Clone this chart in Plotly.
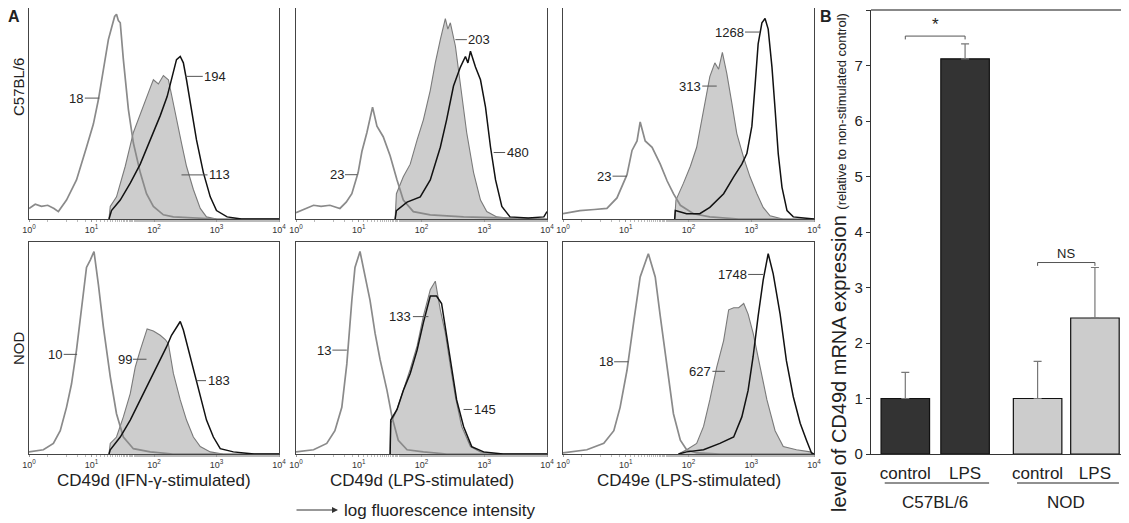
import plotly.graph_objects as go

W, H = 1129, 523

# ---------------- Panel A data (log10 fluorescence, normalised count) ----------------
# C57BL/6, CD49d, IFN-gamma stimulated
c57_ifn_iso_logx = [0.0, 0.1, 0.2, 0.3, 0.4, 0.47, 0.6, 0.76, 0.92, 1.03, 1.11, 1.19, 1.27, 1.32, 1.37, 1.40, 1.43, 1.46, 1.51, 1.59, 1.67, 1.78, 1.88, 1.99, 2.15, 2.31, 2.6, 3.0, 4.0]
c57_ifn_iso_y = [0.05, 0.07, 0.06, 0.065, 0.05, 0.035, 0.09, 0.185, 0.34, 0.45, 0.565, 0.70, 0.85, 0.905, 0.96, 0.97, 0.94, 0.93, 0.755, 0.52, 0.36, 0.22, 0.12, 0.06, 0.02, 0.01, 0.005, 0.0, 0.0]
c57_ifn_fill_logx = [1.28, 1.30, 1.40, 1.54, 1.67, 1.78, 1.88, 1.95, 1.99, 2.07, 2.15, 2.23, 2.28, 2.36, 2.44, 2.52, 2.63, 2.74, 2.84, 3.0]
c57_ifn_fill_y = [0.0, 0.06, 0.105, 0.25, 0.41, 0.50, 0.58, 0.63, 0.66, 0.64, 0.68, 0.66, 0.59, 0.47, 0.36, 0.25, 0.14, 0.05, 0.01, 0.0]
c57_ifn_line_logx = [1.28, 1.32, 1.46, 1.62, 1.78, 1.94, 2.10, 2.21, 2.28, 2.36, 2.42, 2.47, 2.52, 2.60, 2.68, 2.79, 2.90, 3.0, 3.17, 3.4, 4.0]
c57_ifn_line_y = [0.0, 0.04, 0.09, 0.17, 0.26, 0.375, 0.49, 0.58, 0.66, 0.755, 0.77, 0.74, 0.66, 0.52, 0.375, 0.22, 0.105, 0.04, 0.01, 0.0, 0.0]

# C57BL/6, CD49d, LPS stimulated
c57_lpsd_iso_logx = [0.0, 0.15, 0.28, 0.4, 0.54, 0.70, 0.80, 0.89, 0.99, 1.05, 1.13, 1.22, 1.29, 1.39, 1.50, 1.61, 1.71, 1.87, 2.14, 2.67, 3.2, 4.0]
c57_lpsd_iso_y = [0.03, 0.05, 0.065, 0.06, 0.065, 0.05, 0.08, 0.12, 0.22, 0.32, 0.41, 0.53, 0.44, 0.39, 0.30, 0.185, 0.09, 0.035, 0.02, 0.01, 0.005, 0.0]
c57_lpsd_fill_logx = [1.58, 1.60, 1.71, 1.82, 1.93, 2.03, 2.14, 2.22, 2.30, 2.38, 2.42, 2.46, 2.54, 2.62, 2.72, 2.83, 2.94, 3.04, 3.2, 3.5]
c57_lpsd_fill_y = [0.0, 0.12, 0.20, 0.26, 0.375, 0.47, 0.61, 0.74, 0.85, 0.95, 0.90, 0.93, 0.82, 0.63, 0.41, 0.22, 0.09, 0.035, 0.01, 0.0]
c57_lpsd_line_logx = [1.58, 1.60, 1.77, 1.98, 2.14, 2.30, 2.40, 2.51, 2.62, 2.70, 2.74, 2.78, 2.86, 2.94, 3.02, 3.10, 3.18, 3.28, 3.41, 3.7, 3.95, 4.0]
c57_lpsd_line_y = [0.0, 0.04, 0.08, 0.105, 0.185, 0.34, 0.47, 0.63, 0.72, 0.77, 0.74, 0.795, 0.72, 0.66, 0.53, 0.34, 0.185, 0.06, 0.01, 0.005, 0.01, 0.035]

# C57BL/6, CD49e, LPS stimulated
c57_lpse_iso_logx = [0.0, 0.27, 0.5, 0.70, 0.86, 1.02, 1.10, 1.18, 1.23, 1.31, 1.42, 1.55, 1.66, 1.76, 1.87, 2.08, 2.34, 2.8, 4.0]
c57_lpse_iso_y = [0.025, 0.04, 0.045, 0.05, 0.10, 0.21, 0.325, 0.37, 0.46, 0.37, 0.34, 0.26, 0.18, 0.12, 0.065, 0.025, 0.01, 0.0, 0.0]
c57_lpse_fill_logx = [1.78, 1.80, 1.92, 2.03, 2.13, 2.24, 2.34, 2.42, 2.48, 2.54, 2.61, 2.69, 2.77, 2.88, 2.98, 3.09, 3.19, 3.30, 3.5]
c57_lpse_fill_y = [0.0, 0.09, 0.17, 0.25, 0.34, 0.52, 0.675, 0.74, 0.71, 0.79, 0.69, 0.55, 0.405, 0.29, 0.20, 0.12, 0.055, 0.015, 0.0]
c57_lpse_line_logx = [1.78, 1.79, 1.97, 2.18, 2.34, 2.56, 2.72, 2.85, 2.93, 3.01, 3.06, 3.11, 3.17, 3.22, 3.27, 3.33, 3.38, 3.43, 3.49, 3.57, 3.67, 4.0]
c57_lpse_line_y = [0.0, 0.04, 0.025, 0.025, 0.055, 0.12, 0.20, 0.26, 0.31, 0.44, 0.63, 0.83, 0.93, 0.95, 0.90, 0.72, 0.52, 0.31, 0.15, 0.04, 0.01, 0.0]

# NOD, CD49d, IFN-gamma stimulated
nod_ifn_iso_logx = [0.0, 0.23, 0.39, 0.50, 0.60, 0.68, 0.76, 0.84, 0.92, 0.98, 1.04, 1.11, 1.19, 1.30, 1.40, 1.51, 1.67, 1.94, 2.3, 4.0]
nod_ifn_iso_y = [0.01, 0.02, 0.05, 0.11, 0.22, 0.33, 0.49, 0.695, 0.88, 0.915, 0.955, 0.80, 0.60, 0.365, 0.19, 0.08, 0.025, 0.01, 0.0, 0.0]
nod_ifn_fill_logx = [1.28, 1.30, 1.40, 1.51, 1.62, 1.66, 1.70, 1.78, 1.83, 1.89, 1.99, 2.10, 2.18, 2.23, 2.31, 2.42, 2.52, 2.63, 2.74, 2.90, 3.1]
nod_ifn_fill_y = [0.0, 0.05, 0.08, 0.175, 0.285, 0.35, 0.41, 0.49, 0.54, 0.59, 0.58, 0.56, 0.54, 0.52, 0.38, 0.255, 0.16, 0.08, 0.035, 0.01, 0.0]
nod_ifn_line_logx = [1.28, 1.30, 1.46, 1.62, 1.78, 1.94, 2.10, 2.20, 2.28, 2.36, 2.42, 2.47, 2.55, 2.63, 2.74, 2.84, 2.95, 3.06, 3.27, 3.6, 4.0]
nod_ifn_line_y = [0.0, 0.02, 0.08, 0.16, 0.255, 0.35, 0.44, 0.505, 0.56, 0.60, 0.625, 0.585, 0.49, 0.395, 0.27, 0.16, 0.08, 0.025, 0.01, 0.0, 0.0]

# NOD, CD49d, LPS stimulated
nod_lpsd_iso_logx = [0.0, 0.28, 0.49, 0.62, 0.73, 0.81, 0.89, 0.94, 1.02, 1.10, 1.18, 1.26, 1.34, 1.45, 1.53, 1.63, 1.77, 2.03, 2.4, 4.0]
nod_lpsd_iso_y = [0.01, 0.02, 0.05, 0.11, 0.22, 0.425, 0.725, 0.88, 0.955, 0.835, 0.725, 0.57, 0.445, 0.30, 0.175, 0.065, 0.02, 0.01, 0.0, 0.0]
nod_lpsd_fill_logx = [1.50, 1.51, 1.61, 1.71, 1.82, 1.93, 2.03, 2.14, 2.22, 2.30, 2.38, 2.46, 2.54, 2.64, 2.78, 2.94, 3.2]
nod_lpsd_fill_y = [0.0, 0.145, 0.21, 0.30, 0.40, 0.51, 0.65, 0.775, 0.815, 0.68, 0.57, 0.415, 0.27, 0.13, 0.035, 0.01, 0.0]
nod_lpsd_line_logx = [1.50, 1.51, 1.61, 1.71, 1.82, 1.93, 2.03, 2.14, 2.24, 2.32, 2.41, 2.48, 2.56, 2.67, 2.80, 2.99, 3.3, 4.0]
nod_lpsd_line_y = [0.0, 0.16, 0.21, 0.30, 0.38, 0.49, 0.62, 0.745, 0.745, 0.71, 0.54, 0.40, 0.255, 0.13, 0.035, 0.01, 0.0, 0.0]

# NOD, CD49e, LPS stimulated
nod_lpse_iso_logx = [0.0, 0.38, 0.65, 0.81, 0.91, 1.02, 1.13, 1.23, 1.36, 1.47, 1.55, 1.66, 1.76, 1.87, 1.97, 2.13, 2.5, 4.0]
nod_lpse_iso_y = [0.005, 0.02, 0.05, 0.11, 0.22, 0.395, 0.63, 0.835, 0.945, 0.835, 0.65, 0.395, 0.19, 0.065, 0.02, 0.005, 0.0, 0.0]
nod_lpse_fill_logx = [1.84, 1.97, 2.13, 2.24, 2.34, 2.45, 2.56, 2.64, 2.72, 2.80, 2.88, 2.95, 3.03, 3.14, 3.25, 3.38, 3.51, 3.72, 3.94, 4.0]
nod_lpse_fill_y = [0.0, 0.02, 0.05, 0.13, 0.255, 0.41, 0.535, 0.68, 0.69, 0.69, 0.71, 0.66, 0.57, 0.41, 0.255, 0.11, 0.035, 0.02, 0.01, 0.0]
nod_lpse_line_logx = [1.84, 1.97, 2.24, 2.50, 2.72, 2.85, 2.95, 3.03, 3.11, 3.19, 3.27, 3.35, 3.46, 3.56, 3.67, 3.78, 3.88, 3.96, 4.0]
nod_lpse_line_y = [0.0, 0.01, 0.02, 0.05, 0.08, 0.175, 0.30, 0.46, 0.65, 0.82, 0.945, 0.85, 0.66, 0.44, 0.27, 0.145, 0.065, 0.005, 0.0]

# MFI labels per panel: (text, log10 x on curve, y on curve)
c57_ifn_labels = [("18", 1.125, 0.573), ("194", 2.50, 0.676), ("113", 2.44, 0.209)]
c57_lpsd_labels = [("23", 0.98, 0.21), ("203", 2.54, 0.85), ("480", 3.15, 0.315)]
c57_lpse_labels = [("23", 1.02, 0.203), ("313", 2.45, 0.63), ("1268", 3.14, 0.886)]
nod_ifn_labels = [("10", 0.77, 0.47), ("99", 1.88, 0.447), ("183", 2.68, 0.346)]
nod_lpsd_labels = [("13", 0.81, 0.49), ("133", 2.11, 0.648), ("145", 2.67, 0.21)]
nod_lpse_labels = [("18", 1.045, 0.435), ("627", 2.58, 0.39), ("1748", 3.19, 0.847)]
# label offsets in px (layout)
c57_ifn_off = [-23, 30, 38]
c57_lpsd_off = [-21, 24, 24]
c57_lpse_off = [-23, -27, -31]
nod_ifn_off = [-22, -22, 22]
nod_lpsd_off = [-23, -28, 21]
nod_lpse_off = [-23, -25, -31]

hist_titles = ["CD49d (IFN-\u03b3-stimulated)", "CD49d (LPS-stimulated)", "CD49e (LPS-stimulated)"]
row_labels = ["C57BL/6", "NOD"]
tick_vals = [1, 10, 100, 1000, 10000]
tick_text = ["10<sup>0</sup>", "10<sup>1</sup>", "10<sup>2</sup>", "10<sup>3</sup>", "10<sup>4</sup>"]

# ---------------- Panel B data ----------------
bar_categories = ["control", "LPS", "control", "LPS"]
bar_groups = ["C57BL/6", "NOD"]
bar_values = [1.0, 7.12, 1.0, 2.45]
bar_errors = [0.47, 0.27, 0.67, 0.91]
bar_colors = ["#333333", "#333333", "#cccccc", "#cccccc"]
bar_pos = [0.70, 1.92, 3.40, 4.57]
sig_labels = ["*", "NS"]
sig_levels = [7.53, 3.45]

FONT = "Liberation Sans, Arial, sans-serif"
OFF = 8  # page body margin of the html page

def px_x(p):
    return (p - OFF) / W

def px_y(p):
    return 1 - (p - OFF) / H

def label(x, y, text, size, xref="paper", yref="paper", **kw):
    d = dict(x=x, y=y, xref=xref, yref=yref, text=text, showarrow=False,
             xanchor="center", yanchor="middle", font=dict(size=size, color="#222"))
    d.update(kw)
    return d

fig = go.Figure()

panels = [
    (c57_ifn_iso_logx, c57_ifn_iso_y, c57_ifn_fill_logx, c57_ifn_fill_y, c57_ifn_line_logx, c57_ifn_line_y, c57_ifn_labels, c57_ifn_off),
    (c57_lpsd_iso_logx, c57_lpsd_iso_y, c57_lpsd_fill_logx, c57_lpsd_fill_y, c57_lpsd_line_logx, c57_lpsd_line_y, c57_lpsd_labels, c57_lpsd_off),
    (c57_lpse_iso_logx, c57_lpse_iso_y, c57_lpse_fill_logx, c57_lpse_fill_y, c57_lpse_line_logx, c57_lpse_line_y, c57_lpse_labels, c57_lpse_off),
    (nod_ifn_iso_logx, nod_ifn_iso_y, nod_ifn_fill_logx, nod_ifn_fill_y, nod_ifn_line_logx, nod_ifn_line_y, nod_ifn_labels, nod_ifn_off),
    (nod_lpsd_iso_logx, nod_lpsd_iso_y, nod_lpsd_fill_logx, nod_lpsd_fill_y, nod_lpsd_line_logx, nod_lpsd_line_y, nod_lpsd_labels, nod_lpsd_off),
    (nod_lpse_iso_logx, nod_lpse_iso_y, nod_lpse_fill_logx, nod_lpse_fill_y, nod_lpse_line_logx, nod_lpse_line_y, nod_lpse_labels, nod_lpse_off),
]

col_px = [(29, 279), (296, 547), (563, 814)]
row_px = [(8, 219), (242, 454)]

layout = dict(
    width=W, height=H, margin=dict(l=0, r=0, t=0, b=0, pad=0, autoexpand=False),
    paper_bgcolor="white", plot_bgcolor="white", showlegend=False,
    font=dict(family=FONT, color="#222"),
)
annotations = []
shapes = []

for i, (ix, iy, fx, fy, lx, ly, labels, offs) in enumerate(panels):
    n = i + 1
    r, c = divmod(i, 3)
    xa = "x" if n == 1 else f"x{n}"
    ya = "y" if n == 1 else f"y{n}"
    fig.add_trace(go.Scatter(x=[10 ** v for v in fx], y=fy, mode="lines", fill="tozeroy",
                             fillcolor="#cdcdcd", line=dict(color="#7a7a7a", width=1.1),
                             xaxis=xa, yaxis=ya, hoverinfo="skip"))
    fig.add_trace(go.Scatter(x=[10 ** v for v in ix], y=iy, mode="lines",
                             line=dict(color="#8a8a8a", width=1.7),
                             xaxis=xa, yaxis=ya, hoverinfo="skip"))
    fig.add_trace(go.Scatter(x=[10 ** v for v in lx], y=ly, mode="lines",
                             line=dict(color="#111111", width=1.5),
                             xaxis=xa, yaxis=ya, hoverinfo="skip"))
    x0, x1 = col_px[c]
    y0, y1 = row_px[r]
    layout["xaxis" if n == 1 else f"xaxis{n}"] = dict(
        domain=[px_x(x0), px_x(x1)], anchor=ya, type="log", range=[0, 4], automargin=False,
        tickvals=tick_vals, ticktext=tick_text, tickfont=dict(size=9, color="#333"),
        ticks="outside", ticklen=2, tickcolor="#999",
        minor=dict(ticks="outside", ticklen=1.5, tickcolor="#bbb", showgrid=False),
        showline=True, mirror=True, linecolor="#444", linewidth=1.2,
        showgrid=False, zeroline=False,
    )
    layout["yaxis" if n == 1 else f"yaxis{n}"] = dict(
        domain=[px_y(y1), px_y(y0)], anchor=xa, range=[0, 1.0], automargin=False,
        showticklabels=False, ticks="", showline=True, mirror=True,
        linecolor="#444", linewidth=1.2, showgrid=False, zeroline=False,
    )
    for (txt, lxv, lyv), off in zip(labels, offs):
        annotations.append(dict(
            x=lxv, y=lyv, xref=xa, yref=ya, text=txt, showarrow=True,
            arrowhead=0, arrowwidth=1, arrowcolor="#555", ax=off, ay=0,
            font=dict(size=13, color="#222"), standoff=0,
        ))
    if r == 1:
        annotations.append(label(px_x((x0 + x1) / 2), px_y(480), hist_titles[c], 17))

# row labels
annotations.append(label(px_x(18), px_y(87), row_labels[0], 15, textangle=-90))
annotations.append(label(px_x(18), px_y(348), row_labels[1], 15, textangle=-90))
# panel letters
annotations.append(label(px_x(14), px_y(17), "<b>A</b>", 16))
annotations.append(label(px_x(826), px_y(17), "<b>B</b>", 16))
# log fluorescence arrow
annotations.append(dict(x=px_x(338), y=px_y(510), ax=-43, ay=0,
                        xref="paper", yref="paper",
                        text="", showarrow=True, arrowhead=2, arrowsize=1, arrowwidth=1.2,
                        arrowcolor="#333"))
annotations.append(label(px_x(342), px_y(510), "log fluorescence intensity", 17, xanchor="left"))

# ---------------- Panel B ----------------
fig.add_trace(go.Bar(
    x=bar_pos, y=bar_values, width=0.99, marker=dict(color=bar_colors, line=dict(color="#111", width=1.2)),
    error_y=dict(type="data", symmetric=False, array=bar_errors, arrayminus=[0] * 4,
                 color="#777", thickness=1.2, width=4),
    xaxis="x7", yaxis="y7", hoverinfo="skip",
))
layout["xaxis7"] = dict(
    domain=[px_x(871), px_x(1129)], anchor="y7", range=[0, 258 / 49], automargin=False,
    tickvals=bar_pos, ticktext=bar_categories, tickfont=dict(size=17, color="#222"),
    ticks="outside", ticklen=3, tickcolor="rgba(0,0,0,0)",
    showline=True, linecolor="#333", linewidth=1.2, showgrid=False, zeroline=False,
)
layout["yaxis7"] = dict(
    domain=[px_y(454), px_y(10)], anchor="x7", range=[0, 8], tickvals=list(range(9)),
    automargin=False,
    tickfont=dict(size=15, color="#222"), ticks="outside", ticklen=4, tickcolor="#333",
    showline=True, linecolor="#333", linewidth=1.2, showgrid=False, zeroline=False,
)
# top border of panel B
shapes.append(dict(type="line", xref="paper", yref="paper", x0=px_x(871), x1=px_x(1129),
                   y0=px_y(10), y1=px_y(10), line=dict(color="#888", width=2)))
# significance brackets
for k, (lab, lev) in enumerate(zip(sig_labels, sig_levels)):
    xa_, xb_ = bar_pos[2 * k], bar_pos[2 * k + 1]
    fig.add_trace(go.Scatter(x=[xa_, xa_, xb_, xb_], y=[lev - 0.06, lev, lev, lev - 0.06],
                             mode="lines", line=dict(color="#555", width=1),
                             xaxis="x7", yaxis="y7", hoverinfo="skip"))
    annotations.append(label((xa_ + xb_) / 2, lev, lab, 17 if lab == "*" else 13,
                             xref="x7", yref="y7", yanchor="bottom"))
# group lines and labels
for g, name in enumerate(bar_groups):
    xa_, xb_ = bar_pos[2 * g], bar_pos[2 * g + 1]
    shapes.append(dict(type="line", xref="x7", yref="paper", x0=xa_ - 0.42, x1=xb_ + 0.49,
                       y0=px_y(483), y1=px_y(483), line=dict(color="#222", width=1.2)))
    annotations.append(label((xa_ + xb_) / 2, px_y(502), name, 17, xref="x7"))
# y title
annotations.append(label(
    px_x(839), px_y(263),
    "level of CD49d mRNA expression <span style='font-size:13px'>(relative to non-stimulated control)</span>",
    20, textangle=-90,
))

layout["annotations"] = annotations
layout["shapes"] = shapes
fig.update_layout(**layout)
fig.write_html("out.html")
